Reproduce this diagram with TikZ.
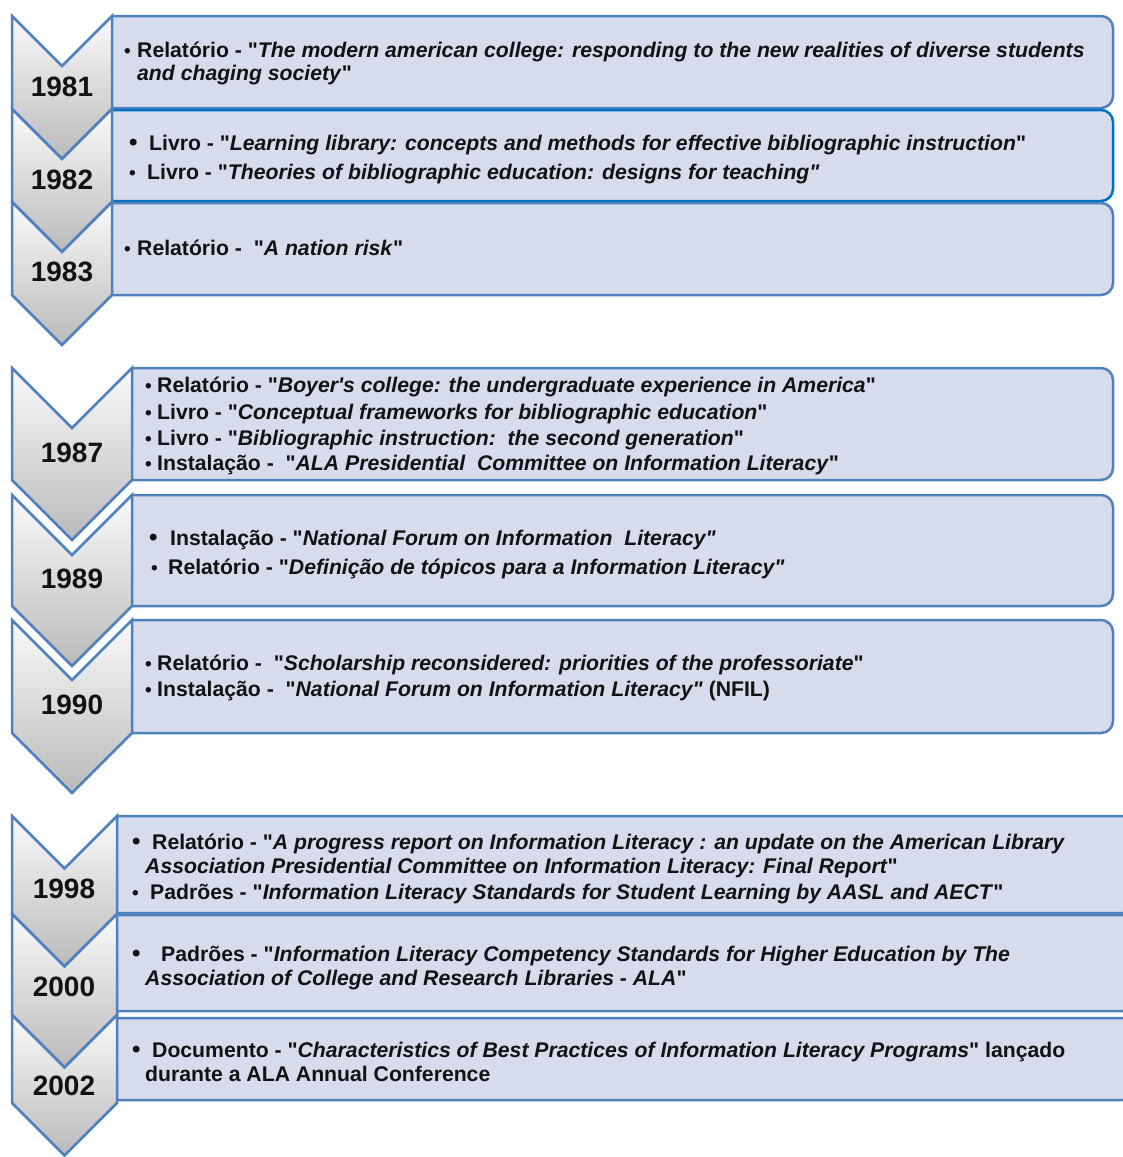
\documentclass[tikz,border=0pt]{standalone}
\usepackage{fontspec}
\setmainfont{Liberation Sans}[Ligatures=TeXOff]
\definecolor{bordc}{RGB}{79,129,189}
\definecolor{selc}{RGB}{0,112,192}
\definecolor{boxfill}{RGB}{214,220,235}
\definecolor{chevtop}{RGB}{250,250,250}
\definecolor{chevbot}{RGB}{186,186,186}
\tikzset{
  chev/.style={draw=bordc, line width=2.5pt, line join=miter, top color=chevtop, bottom color=chevbot},
  boxx/.style={fill=boxfill, line width=2.5pt, rounded corners=12pt},
  yr/.style={font=\fontsize{28}{28}\selectfont\bfseries, anchor=center, inner sep=0pt, text=black!93},
  txt/.style={font=\fontsize{21.2}{24}\selectfont\bfseries, anchor=base west, inner sep=0pt, text=black!93},
  bul/.style={font=\fontsize{19}{22}\selectfont\bfseries, anchor=base west, inner sep=0pt, text=black!93},
  bigbul/.style={font=\fontsize{24}{24}\selectfont\bfseries, anchor=base west, inner sep=0pt, text=black!93},
}
% box: x0, x1, y0, y1, border colour
\newcommand\tlbox[5]{\path[boxx, draw=#5] (#1,#3) -- (#2,#3) -- (#2,#4) -- (#1,#4);}
% chevron: x1, d, y0, y1
\newcommand\tlchev[4]{\path[chev] (12,#3) -- ({12+#2},{#3+#2}) -- (#1,#3) -- (#1,#4) -- ({12+#2},{#4+#2}) -- (12,#4) -- cycle;}
\begin{document}
\begin{tikzpicture}[x=1pt,y=-1pt]
\useasboundingbox (0,0) rectangle (1123,1157);
% ---------- group 1
\tlbox{112}{1113}{16}{108}{bordc}
\tlbox{112}{1113}{110}{201}{selc}
\tlbox{112}{1113}{203}{295}{bordc}
\tlchev{112}{50}{16}{109}
\tlchev{112}{50}{109}{202}
\tlchev{112}{50}{202}{295}
\node[yr] (y1981) at (62,87) {1981};
\node[yr] (y1982) at (62,180) {1982};
\node[yr] (y1983) at (62,272) {1983};
\node[bul] (b1a) at (124,57) {•};
\node[txt] (t1a) at (137,57) {Relatório - "\textit{The modern american college: responding to the new realities of diverse students}};
\node[txt] (t1b) at (137,80) {\textit{and chaging society}"};
\node[bigbul] (b2a) at (129,150) {•};
\node[txt] (t2a) at (149,150) {Livro - "\textit{Learning library: concepts and methods for effective bibliographic instruction}"};
\node[bul] (b2b) at (129,179) {•};
\node[txt] (t2b) at (147,179) {Livro - "\textit{Theories of bibliographic education: designs for teaching"}};
\node[bul] (b3a) at (124,255) {•};
\node[txt] (t3a) at (137,255) {Relatório -\ \ "\textit{A nation risk}"};
% ---------- group 2
\tlbox{132}{1113}{368}{480}{bordc}
\tlbox{132}{1113}{495}{606}{bordc}
\tlbox{132}{1113}{620}{733}{bordc}
\tlchev{132}{60}{368}{480}
\tlchev{132}{60}{495}{606}
\tlchev{132}{60}{620}{733}
\node[yr] (y1987) at (72,453) {1987};
\node[yr] (y1989) at (72,579) {1989};
\node[yr] (y1990) at (72,705) {1990};
\node[bul] (b4a) at (145,392) {•};
\node[txt] (t4a) at (157,392) {Relatório - "\textit{Boyer's college: the undergraduate experience in America}"};
\node[bul] (b4b) at (145,419) {•};
\node[txt] (t4b) at (157,419) {Livro - "\textit{Conceptual frameworks for bibliographic education}"};
\node[bul] (b4c) at (145,445) {•};
\node[txt] (t4c) at (157,445) {Livro - "\textit{Bibliographic instruction:\ \ the second generation}"};
\node[bul] (b4d) at (145,470) {•};
\node[txt] (t4d) at (157,470) {Instalação -\ \ "\textit{ALA Presidential\ \ Committee on Information Literacy}"};
\node[bigbul] (b5a) at (149,545) {•};
\node[txt] (t5a) at (170,545) {Instalação - "\textit{National Forum on Information\ \ Literacy"}};
\node[bul] (b5b) at (151,574) {•};
\node[txt] (t5b) at (168,574) {Relatório - "\textit{Definição de tópicos para a Information Literacy"}};
\node[bul] (b6a) at (145,670) {•};
\node[txt] (t6a) at (157,670) {Relatório -\ \ "\textit{Scholarship reconsidered: priorities of the professoriate}"};
\node[bul] (b6b) at (145,696) {•};
\node[txt] (t6b) at (157,696) {Instalação -\ \ "\textit{National Forum on Information Literacy"} (NFIL)};
% ---------- group 3
\tlbox{117}{1135}{816}{913}{bordc}
\tlbox{117}{1135}{915}{1011}{bordc}
\tlbox{117}{1135}{1018}{1100}{bordc}
\tlchev{117}{52.5}{816}{914}
\tlchev{117}{52.5}{914}{1015}
\tlchev{117}{52.5}{1015}{1103}
\node[yr] (y1998) at (64,889) {1998};
\node[yr] (y2000) at (64,987) {2000};
\node[yr] (y2002) at (64,1086) {2002};
\node[bigbul] (b7a) at (132,849) {•};
\node[txt] (t7a) at (152,849) {Relatório - "\textit{A progress report on Information Literacy : an update on the American Library}};
\node[txt] (t7b) at (145,873) {\textit{Association Presidential Committee on Information Literacy: Final Report}"};
\node[bul] (b7c) at (132,899) {•};
\node[txt] (t7c) at (150,899) {Padrões - "\textit{Information Literacy Standards for Student Learning by AASL and AECT}"};
\node[bigbul] (b8a) at (132,961) {•};
\node[txt] (t8a) at (161,961) {Padrões - "\textit{Information Literacy Competency Standards for Higher Education by The}};
\node[txt] (t8b) at (145,985) {\textit{Association of College and Research Libraries - ALA}"};
\node[bigbul] (b9a) at (132,1057) {•};
\node[txt] (t9a) at (152,1057) {Documento - "\textit{Characteristics of Best Practices of Information Literacy Programs}" lançado};
\node[txt] (t9b) at (145,1081) {durante a ALA Annual Conference};
\end{tikzpicture}
\end{document}
